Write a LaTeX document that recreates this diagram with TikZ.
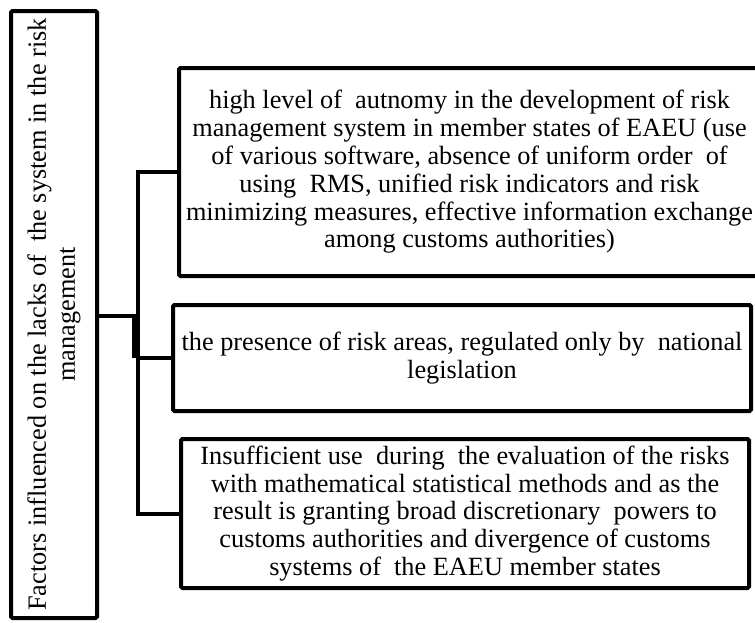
\documentclass[tikz,border=0pt]{standalone}
\usepackage{fontspec}
\setmainfont{Liberation Serif}
\usetikzlibrary{calc}
\tikzset{
	factorbox/.style={draw, line width=4pt, rounded corners=1.5pt, inner sep=0pt},
	factortext/.style={align=center, inner sep=0pt, font=\fontsize{26.3}{27.8}\selectfont},
	link/.style={line width=4pt}
}

\begin{document}
\begin{tikzpicture}[x=1pt,y=-1pt]
	\useasboundingbox (0,0) rectangle (755,622);
	\node [factorbox, minimum width=86pt, minimum height=607pt] (cause) at (54,314.5) {};
	\node [factortext, rotate=90, font=\fontsize{26.3}{29}\selectfont] (causetext) at (cause) {Factors influenced on the lacks of~ the system in the risk\\management};
	\node [factorbox, minimum width=581pt, minimum height=208pt] (lack1) at (469.5,172) {};
	\node [factortext] (lack1text) at (lack1) {high level of~ autnomy in the development of risk\\management system in member states of EAEU (use\\of various software, absence of uniform order~ of\\using~ RMS, unified risk indicators and risk\\minimizing measures, effective information exchange\\among customs authorities)};
	\node [factorbox, minimum width=578pt, minimum height=106pt] (lack2) at (462,358) {};
	\node [factortext] (lack2text) at (lack2) {the presence of risk areas, regulated only by~ national\\legislation};
	\node [factorbox, minimum width=568pt, minimum height=149pt] (lack3) at (465,513.5) {};
	\node [factortext] (lack3text) at (lack3) {Insufficient use~ during~ the evaluation of the risks\\with mathematical statistical methods and as the\\result is granting broad discretionary~ powers to\\customs authorities and divergence of customs\\systems of~ the EAEU member states};
	\coordinate (hub) at (138,316);
	\draw [link] (cause.east |- hub) -- (hub);
	\draw [link] (lack1.west) -| (hub) |- (lack3.west);
	\draw [link] (hub |- lack2.west) -- (lack2.west);
	\draw [link, line width=8pt] ($(hub)+(-2,0)$) -- ($(hub |- lack2.west)+(-2,0)$);
\end{tikzpicture}
\end{document}
